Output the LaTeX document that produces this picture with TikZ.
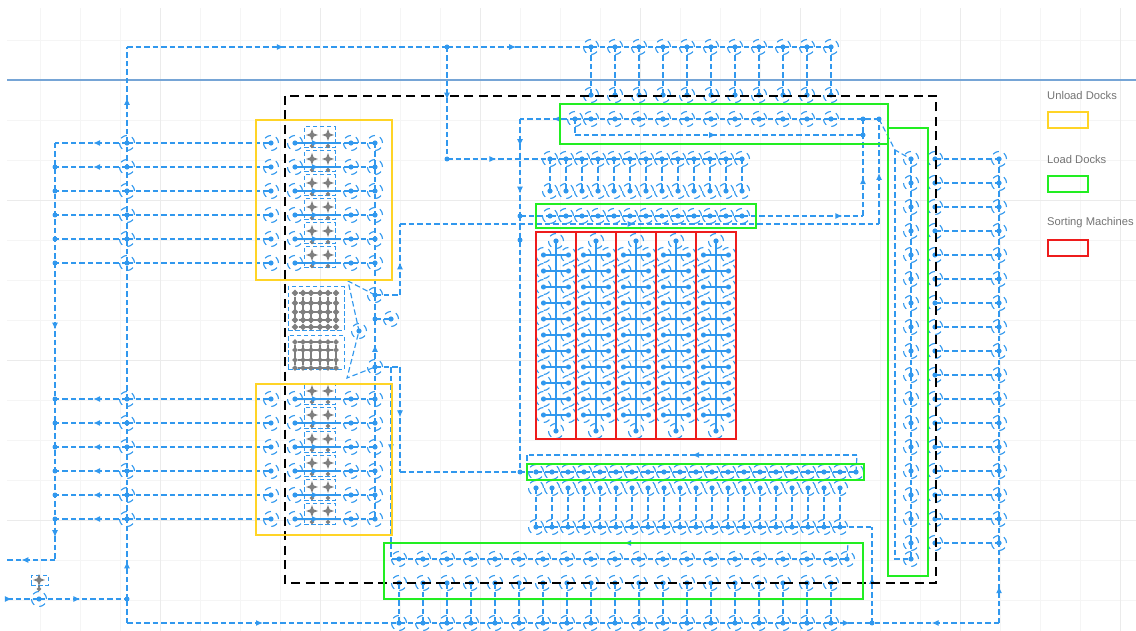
\documentclass[tikz,border=0pt]{standalone}
\usepackage{fontspec}
\setmainfont{Liberation Sans}
\usetikzlibrary{arrows.meta,decorations.markings,shapes.geometric}
\definecolor{flowb}{HTML}{3198EE}
\definecolor{wallb}{HTML}{76A5D6}
\definecolor{dockyel}{HTML}{FFD426}
\definecolor{dockgrn}{HTML}{22EE22}
\definecolor{sortred}{HTML}{EE1C1C}
\definecolor{mcgrey}{HTML}{7F7F7F}
\begin{document}
\begin{tikzpicture}[x=1pt,y=-1pt,
  flow/.style={draw=flowb,line width=1.15pt,dash pattern=on 5.5pt off 3pt},
  midarr/.style={postaction={decorate,decoration={markings,mark=at position #1 with {\arrow[flowb]{Latex[length=7pt,width=6pt]}}}}},
  stn/.style={circle,draw=flowb,line width=1.1pt,dash pattern=on 6.5pt off 5.3pt,minimum size=15pt,inner sep=0pt,outer sep=0pt,path picture={\fill[flowb] (path picture bounding box.center) circle (2.6pt);}},
  jdot/.style={circle,fill=flowb,minimum size=5pt,inner sep=0pt,outer sep=0pt},
  mcbox/.style={draw=flowb,line width=1pt,dash pattern=on 4.5pt off 2.5pt,minimum width=31pt,minimum height=21pt,inner sep=0pt},
  gstar/.style={star,star points=4,star point ratio=2.6,fill=mcgrey,minimum size=12pt,inner sep=0pt},
  gdot/.style={diamond,fill=mcgrey,minimum size=7pt,inner sep=0pt},
  gline/.style={draw=mcgrey,line width=1.2pt},
  boxy/.style={draw=dockyel,line width=2.2pt},
  boxg/.style={draw=dockgrn,line width=2.2pt},
  boxr/.style={draw=sortred,line width=2.2pt},
  legtxt/.style={text=black!55,font=\fontsize{11.2}{13}\selectfont,anchor=west,inner sep=0pt}]
  \useasboundingbox (0,0) rectangle (1136,631);
  % faint sheet grid
  \begin{scope}
    \clip (7,8) rectangle (1136,631);
    \foreach \x in {40,80,...,1120} \draw[black!4,line width=.7pt] (\x,8)--(\x,631);
    \foreach \y in {40,80,...,600} \draw[black!4,line width=.7pt] (7,\y)--(1136,\y);
    \foreach \x in {160,320,...,1120} \draw[black!8,line width=.7pt] (\x,8)--(\x,631);
    \foreach \y in {200,360,520} \draw[black!8,line width=.7pt] (7,\y)--(1136,\y);
  \end{scope}
  \draw[wallb,line width=1.3pt] (7,80)--(1136,80);

  % unload docks
  \foreach \r [count=\k] in {143,167,191,215,239,263,399,423,447,471,495,519}{
    \coordinate (dkL\k) at (55,\r);
    \node[stn] (dkA\k) at (127,\r){}; \node[stn] (dkB\k) at (271,\r){}; \node[stn] (dkC\k) at (295,\r){};
    \node[stn] (dkD\k) at (351,\r){}; \node[stn] (dkE\k) at (375,\r){};
    \node[mcbox] (dkM\k) at (319.5,\r-5.5){};
    \node[gstar] (dkP\k) at (312,\r-8){}; \node[gstar] (dkQ\k) at (328,\r-8){};
    \node[gdot,minimum size=5pt] (dkR\k) at (312,\r+3){}; \node[gdot,minimum size=5pt] (dkS\k) at (328,\r+3){};
    \draw[gline] (dkP\k)--(dkR\k); \draw[gline] (dkQ\k)--(dkS\k);
    \coordinate (dkT\k) at (335,\r);
    \draw[flowb,line width=1.15pt,midarr=.6] (dkC\k.center)--(dkT\k);
    \draw[flow] (dkT\k)--(dkD\k.center)--(dkE\k.center);
    \draw[flow] (dkA\k.center)--(dkB\k.center);
  }
  \foreach \k in {2,3,4,5,6,7,8,9,10,11,12} \node[jdot] at (dkL\k){};
  \foreach \k in {1,2,7,8,9,10,11,12} \draw[flow,midarr=.47] (dkA\k.center)--(dkL\k.center);
  \foreach \k in {3,4,5,6} \draw[flow] (dkA\k.center)--(dkL\k.center);

  % sorter feed block
  \node[mcbox,minimum width=56pt,minimum height=43pt] (mgBoxA) at (316,308.5){};
  \node[mcbox,minimum width=56pt,minimum height=34pt] (mgBoxB) at (316,352){};
  \foreach \y [count=\j] in {293,303,312,320,327}
    \foreach \x [count=\i] in {295,303,311,320,328,336} \node[gdot] (mgA\i\j) at (\x,\y){};
  \foreach \y [count=\j] in {342,350,360,368}
    \foreach \x [count=\i] in {295,303,311,320,328,336} \node[gdot,minimum size=6pt] (mgB\i\j) at (\x,\y){};
  \foreach \i in {1,...,6}{ \draw[gline] (mgA\i1)--(mgA\i5); \draw[gline] (mgB\i1)--(mgB\i4); }
  \foreach \j in {1,...,5} \draw[gline] (mgA1\j)--(mgA6\j);
  \foreach \j in {1,...,4} \draw[gline] (mgB1\j)--(mgB6\j);

  % stations round the feed
  \node[stn] (stE) at (375,295){}; \node[jdot] (jE) at (375,319){}; \node[stn] (stF) at (375,367){};
  \node[stn] (stG) at (391,319){}; \node[stn] (fun) at (359,331){};
  \coordinate (cFa) at (348,281); \coordinate (cFb) at (347,378);
  \coordinate (cUa) at (400,295); \coordinate (cUb) at (400,224); \coordinate (cUc) at (879,224);
  \coordinate (cLa) at (400,367); \coordinate (cLb) at (400,472); \coordinate (cLc) at (391,367);
  \coordinate (cLd) at (391,543); \coordinate (cLe) at (391,559);

  % station rows
  \foreach \x [count=\k] in {591,615,...,831}{
    \node[stn] (topP\k) at (\x,47){}; \node[stn] (topQ\k) at (\x,95){}; \draw[flow] (topP\k.center)--(topQ\k.center);
  }
  \foreach \k [remember=\k as \kp (initially 1)] in {2,...,11} \draw[flow] (topP\kp.center)--(topP\k.center);
  \foreach \x [count=\k] in {575,591,615,639,663,687,711,735,759,783,807,831}{ \node[stn] (rowT\k) at (\x,119){}; }
  \foreach \k [remember=\k as \kp (initially 1)] in {2,...,12} \draw[flow] (rowT\kp.center)--(rowT\k.center);
  \foreach \x [count=\k] in {550,566,...,742}{
    \node[stn] (rowK\k) at (\x,159){}; \node[stn] (rowL\k) at (\x,191){}; \node[stn] (rowM\k) at (\x,216){};
    \draw[flow] (rowK\k.center)--(rowL\k.center);
  }
  \foreach \k [remember=\k as \kp (initially 1)] in {2,...,13}{ \draw[flow] (rowK\kp.center)--(rowK\k.center); \draw[flow] (rowM\kp.center)--(rowM\k.center); }
  \foreach \x [count=\k] in {536,552,...,856}{ \node[stn] (rowD\k) at (\x,472){}; }
  \foreach \k [remember=\k as \kp (initially 1)] in {2,...,21} \draw[flow] (rowD\kp.center)--(rowD\k.center);
  \foreach \x [count=\k] in {536,552,...,840}{
    \node[stn] (rowE\k) at (\x,488){}; \node[stn] (rowF\k) at (\x,527){}; \draw[flow] (rowE\k.center)--(rowF\k.center);
  }
  \foreach \k [remember=\k as \kp (initially 1)] in {2,...,20} \draw[flow] (rowF\kp.center)--(rowF\k.center);
  \foreach \x [count=\k] in {399,423,...,831}{
    \node[stn] (rowG\k) at (\x,559){}; \node[stn] (rowH\k) at (\x,583){}; \node[stn] (rowB\k) at (\x,623){};
    \draw[flow] (rowH\k.center)--(rowB\k.center);
  }
  \node[stn] (rowG20) at (847,559){};
  \foreach \k [remember=\k as \kp (initially 1)] in {2,...,20} \draw[flow] (rowG\kp.center)--(rowG\k.center);
  \foreach \k [remember=\k as \kp (initially 1)] in {2,...,19} \draw[flow] (rowB\kp.center)--(rowB\k.center);

  % right hand column
  \foreach \y [count=\k] in {159,183,...,543}{
    \node[stn] (colY\k) at (911,\y){}; \node[stn] (colX\k) at (935,\y){}; \node[stn] (colZ\k) at (999,\y){};
    \draw[flow] (colX\k.center)--(colZ\k.center);
  }
  \node[stn] (colY18) at (911,559){};
  \foreach \k [remember=\k as \kp (initially 1)] in {2,...,18} \draw[flow] (colY\kp.center)--(colY\k.center);
  \foreach \k [remember=\k as \kp (initially 1)] in {2,...,17} \draw[flow] (colZ\kp.center)--(colZ\k.center);

  % sorting machines
  \foreach \c in {556,596,636,676,716}{
    \node[stn] (rdT\c) at (\c,241){}; \node[stn] (rdB\c) at (\c,431){};
    \draw[flowb,line width=1.15pt] (rdT\c.center)--(rdB\c.center);
    \foreach \r in {255,271,...,415}{
      \node[stn] (rdL\c x\r) at (\c-12.5,\r){}; \node[stn] (rdR\c x\r) at (\c+12.5,\r){};
      \draw[flowb,line width=1.15pt] (rdL\c x\r.center)--(rdR\c x\r.center);
    }
  }

  % main loop
  \coordinate (cTL) at (127,47); \node[jdot] (jTop) at (447,47){}; \node[jdot] (jTopB) at (447,159){};
  \coordinate (cBL) at (127,623); \node[jdot] (jA) at (127,599){}; \coordinate (cSW) at (55,560); \coordinate (cWest) at (7,560);
  \coordinate (cIn) at (7,599); \node[stn] (stIn) at (39,599){};
  \draw[flow,midarr=.47] (dkA1.center)--(cTL); \draw[flow,midarr=.49] (cTL)--(jTop.center);
  \draw[flow,midarr=.48] (jTop.center)--(topP1.center); \draw[flow,midarr=.47] (jTop.center)--(jTopB.center);
  \draw[flow,midarr=.48] (jTopB.center)--(rowK1.center);
  \draw[flow] (dkA6.center)--(dkA1.center); \draw[flow] (dkA7.center)--(dkA6.center); \draw[flow] (dkA12.center)--(dkA7.center);
  \draw[flow,midarr=.47] (jA.center)--(dkA12.center); \draw[flow] (cBL)--(jA.center);
  \draw[flow,midarr=.5] (cBL)--(rowB1.center);
  \draw[flow] (dkL1)--(dkL6.center); \draw[flow,midarr=.49] (dkL6.center)--(dkL7.center);
  \draw[flow] (dkL7.center)--(dkL12.center); \draw[flow,midarr=.44] (dkL12.center)--(cSW);
  \draw[flow,midarr=.7] (cSW)--(cWest);
  \draw[flow,midarr=.15] (cIn)--(stIn.center); \draw[flow,midarr=.47] (stIn.center)--(jA.center);
  \node[mcbox,minimum width=17pt,minimum height=10pt] (mcIn) at (39.5,580){};
  \node[gstar] (mcInA) at (39,580){}; \node[gdot,minimum size=5pt] (mcInB) at (39,589){};
  \draw[gline] (mcInA)--(mcInB);

  % dock column and feed
  \draw[flow] (dkE1.center)--(dkE6.center)--(stE.center)--(jE.center); \draw[flow,midarr=.46] (stF.center)--(jE.center);
  \draw[flow] (stF.center)--(dkE7.center)--(dkE12.center); \draw[flow] (jE.center)--(stG.center);
  \draw[flow] (stE.center)--(cFa)--(fun.center)--(cFb)--(stF.center);
  \draw[flow] (stE.center)--(cUa); \draw[flow,midarr=.46] (cUa)--(cUb); \draw[flow,midarr=.49] (cUb)--(cUc);
  \draw[flow] (stF.center)--(cLa); \draw[flow,midarr=.48] (cLa)--(cLb);
  \draw[flow,midarr=.48] (cLc)--(cLd); \draw[flow] (cLd)--(cLe)--(rowG1.center);

  % loops round the rows
  \coordinate (cKa) at (520,119); \node[jdot] (jKb) at (520,216){}; \node[jdot] (jKc) at (520,240){}; \node[jdot] (jW) at (520,472){};
  \draw[flow,midarr=.4] (rowT1.center)--(cKa); \draw[flow,midarr=.28,midarr=.77] (cKa)--(jKb.center);
  \draw[flow] (jKb.center)--(jKc.center)--(jW.center)--(rowD1.center); \draw[flow] (cLb)--(jW.center);
  \draw[flow] (jKb.center)--(rowM1.center);
  \coordinate (cTb) at (575,135); \node[jdot] (jS) at (863,135){}; \node[jdot] (jQ) at (863,119){}; \node[jdot] (jR) at (879,119){};
  \coordinate (cPa) at (863,216); \coordinate (jV) at (895,150); \coordinate (cVa) at (895,559);
  \draw[flow] (rowT1.center)--(cTb); \draw[flow,midarr=.49] (cTb)--(jS.center);
  \draw[flow] (rowT12.center)--(jQ.center)--(jR.center); \draw[flow] (jQ.center)--(jS.center);
  \draw[flow,midarr=.83] (rowM13.center)--(cPa); \draw[flow,midarr=.48] (cPa)--(jS.center);
  \draw[flow,midarr=.486] (cUc)--(jR.center);
  \draw[flow] (jR.center)--(jV)--(colY1.center); \draw[flow] (jV)--(cVa)--(colY18.center);
  \coordinate (cDa) at (857,455); \coordinate (cDb) at (527,455); \coordinate (cDc) at (527,472);
  \draw[flow,midarr=.5] (cDa)--(cDb); \draw[flow] (rowD21.center)--(cDa); \draw[flow] (cDb)--(cDc);
  \coordinate (cGa) at (848,543); \draw[flow] (rowG20.center)--(cGa); \draw[flow,midarr=.49] (cGa)--(cLd);
  \coordinate (cNa) at (872,527); \node[jdot] (jN) at (872,623){}; \coordinate (cZa) at (999,623);
  \draw[flow] (rowF20.center)--(cNa); \draw[flow,midarr=.48] (jN.center)--(cNa);
  \draw[flow,midarr=.46] (rowB19.center)--(jN.center);
  \draw[flow,midarr=.46] (cZa)--(colZ17.center); \draw[flow,midarr=.53] (cZa)--(jN.center);

  % dock frames
  \draw[black,line width=2.4pt,dash pattern=on 9pt off 5.5pt] (285,96) rectangle (936,583);
  \draw[boxy] (256,120) rectangle (392,280); \draw[boxy] (256,384) rectangle (392,535);
  \draw[boxg] (560,104) rectangle (888,144); \draw[boxg] (888,128) rectangle (928,576);
  \draw[boxg] (536,204) rectangle (756,228); \draw[boxg] (527,464) rectangle (864,480);
  \draw[boxg] (384,543) rectangle (863,599);
  \foreach \x in {536,576,616,656,696} \draw[boxr] (\x,232) rectangle (\x+40,439);

  % legend
  \node[legtxt] (lgUnload) at (1047,95){Unload Docks}; \draw[boxy] (1048,112) rectangle (1088,128);
  \node[legtxt] (lgLoad) at (1047,159){Load Docks}; \draw[boxg] (1048,176) rectangle (1088,192);
  \node[legtxt] (lgSort) at (1047,223){Sorting Machines}; \draw[boxr] (1048,240) rectangle (1088,256);
\end{tikzpicture}
\end{document}
